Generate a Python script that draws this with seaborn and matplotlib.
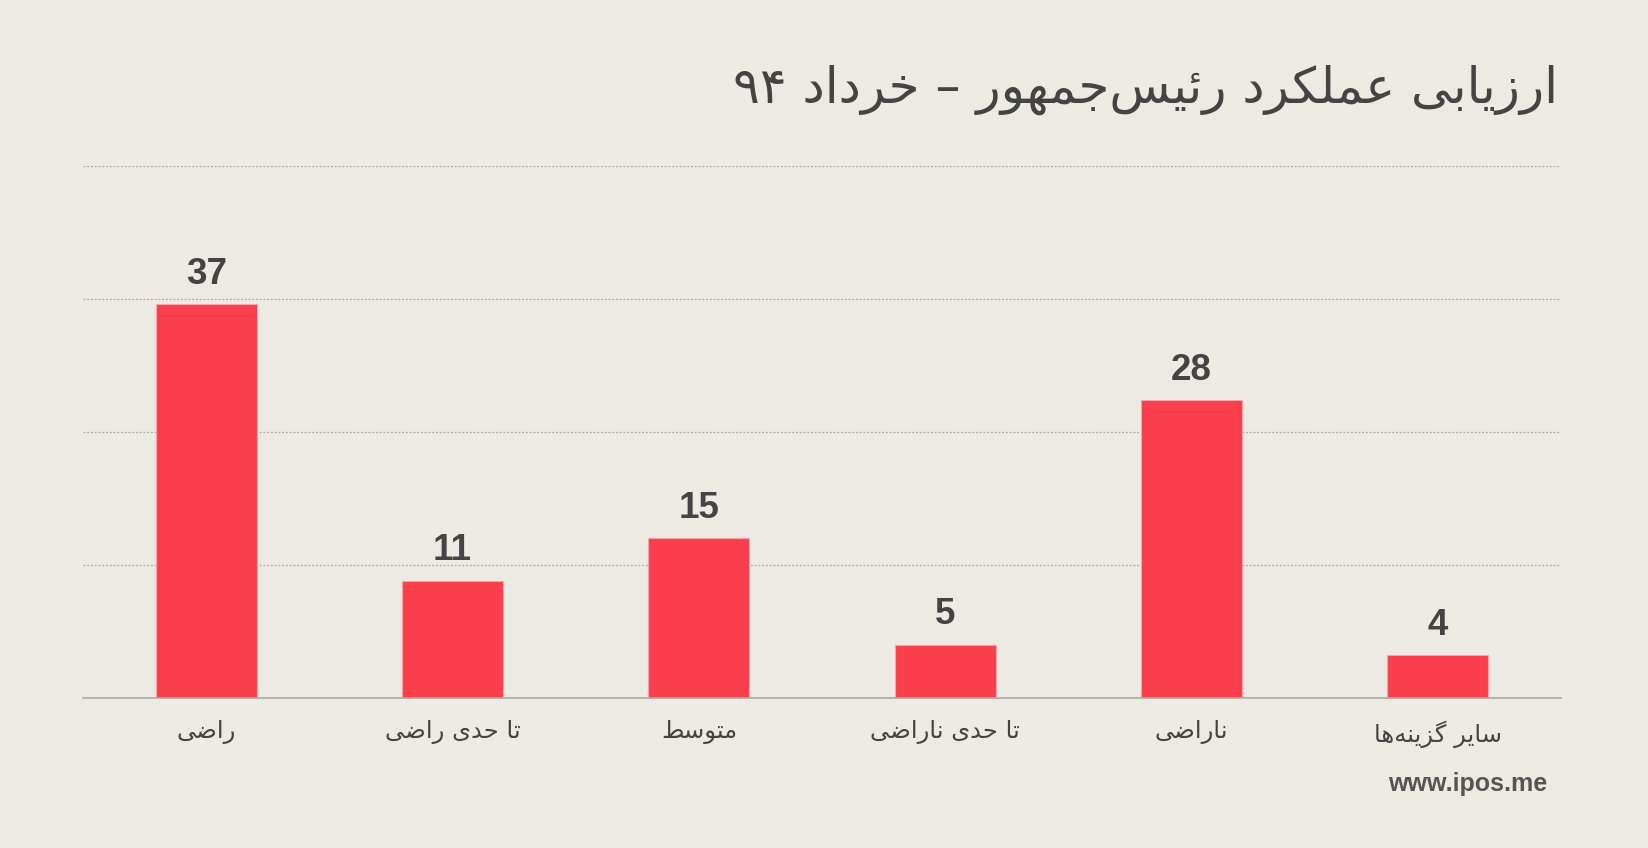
import re
import matplotlib
matplotlib.use("Agg")
import matplotlib.pyplot as plt
import seaborn as sns
import pandas as pd

title = "ارزیابی عملکرد رئیس‌جمهور – خرداد ۹۴"
categories = ["راضی", "تا حدی راضی", "متوسط", "تا حدی ناراضی", "ناراضی", "سایر گزینه‌ها"]
values = [37, 11, 15, 5, 28, 4]
source = "www.ipos.me"

# matplotlib does no Arabic shaping: map letters to presentation forms
# (isolated, final[, initial, medial])
FORMS = {
    'ا': ('\uFE8D', '\uFE8E'),
    'د': ('\uFEA9', '\uFEAA'),
    'ر': ('\uFEAD', '\uFEAE'),
    'ز': ('\uFEAF', '\uFEB0'),
    'و': ('\uFEED', '\uFEEE'),
    'ئ': ('\uFE89', '\uFE8A', '\uFE8B', '\uFE8C'),
    'ب': ('\uFE8F', '\uFE90', '\uFE91', '\uFE92'),
    'ت': ('\uFE95', '\uFE96', '\uFE97', '\uFE98'),
    'ج': ('\uFE9D', '\uFE9E', '\uFE9F', '\uFEA0'),
    'ح': ('\uFEA1', '\uFEA2', '\uFEA3', '\uFEA4'),
    'خ': ('\uFEA5', '\uFEA6', '\uFEA7', '\uFEA8'),
    'س': ('\uFEB1', '\uFEB2', '\uFEB3', '\uFEB4'),
    'ض': ('\uFEBD', '\uFEBE', '\uFEBF', '\uFEC0'),
    'ط': ('\uFEC1', '\uFEC2', '\uFEC3', '\uFEC4'),
    'ع': ('\uFEC9', '\uFECA', '\uFECB', '\uFECC'),
    'ل': ('\uFEDD', '\uFEDE', '\uFEDF', '\uFEE0'),
    'م': ('\uFEE1', '\uFEE2', '\uFEE3', '\uFEE4'),
    'ن': ('\uFEE5', '\uFEE6', '\uFEE7', '\uFEE8'),
    'ه': ('\uFEE9', '\uFEEA', '\uFEEB', '\uFEEC'),
    'ی': ('\uFBFC', '\uFBFD', '\uFBFE', '\uFBFF'),
    'ک': ('\uFB8E', '\uFB8F', '\uFB90', '\uFB91'),
    'گ': ('\uFB92', '\uFB93', '\uFB94', '\uFB95'),
}


def shape(text):
    out = []
    for i, ch in enumerate(text):
        f = FORMS.get(ch)
        if f is None:
            if ch != '\u200c':
                out.append(ch)
            continue
        prev = text[i - 1] if i > 0 else ''
        nxt = text[i + 1] if i < len(text) - 1 else ''
        jp = prev in FORMS and len(FORMS[prev]) == 4
        jn = len(f) == 4 and nxt in FORMS
        if jp and jn:
            out.append(f[3])
        elif jp:
            out.append(f[1])
        elif jn:
            out.append(f[2])
        else:
            out.append(f[0])
    s = ''.join(out)
    runs = re.findall(r'[0-9\u06F0-\u06F9]+|[^0-9\u06F0-\u06F9]', s)
    return ''.join(reversed(runs))


bg = "#EDEAE4"
red = "#F93F4B"
dark = "#444444"

sns.set_theme(style="white")
plt.rcParams['font.family'] = ['DejaVu Sans']

df = pd.DataFrame({"cat": categories, "val": values})

fig = plt.figure(figsize=(16.48, 8.48), dpi=100, facecolor=bg)
ax = fig.add_axes([0.0504, 0.1769, 0.8968, 0.6273])
ax.set_facecolor(bg)

sns.barplot(data=df, x="cat", y="val", order=categories, color=red,
            saturation=1, width=0.41, edgecolor="#F9A3A8", linewidth=0.8, ax=ax)

ax.bar_label(ax.containers[0], labels=[str(v) for v in values], padding=9,
             fontsize=26.5, fontweight="bold", color=dark, family="Liberation Sans")

ax.set_xlim(-0.5, len(categories) - 0.5)
ax.set_ylim(0, 50)
ax.set_yticks([12.5, 25, 37.5, 50])
ax.set_yticklabels([])
ax.yaxis.grid(True, color="#AAAAAA", linestyle=(0, (1.5, 1.5)), linewidth=0.9)
ax.set_axisbelow(True)
ax.set_xticks(range(len(categories)))
ax.set_xticklabels([shape(c) for c in categories], fontsize=17.5, color=dark)
ax.tick_params(axis="both", length=0, pad=16)
ax.set_xlabel("")
ax.set_ylabel("")
for s in ["top", "left", "right"]:
    ax.spines[s].set_visible(False)
ax.spines["bottom"].set_color("#AAAAAA")
ax.spines["bottom"].set_linewidth(1.2)

fig.text(0.9454, 0.894, shape(title), ha="right", va="center",
         fontsize=36, color=dark)
fig.text(0.9387, 0.075, source, ha="right", va="center", fontsize=18,
         fontweight="bold", color="#555555", family="Liberation Sans")

fig.savefig("out.png", dpi=100, facecolor=bg)
